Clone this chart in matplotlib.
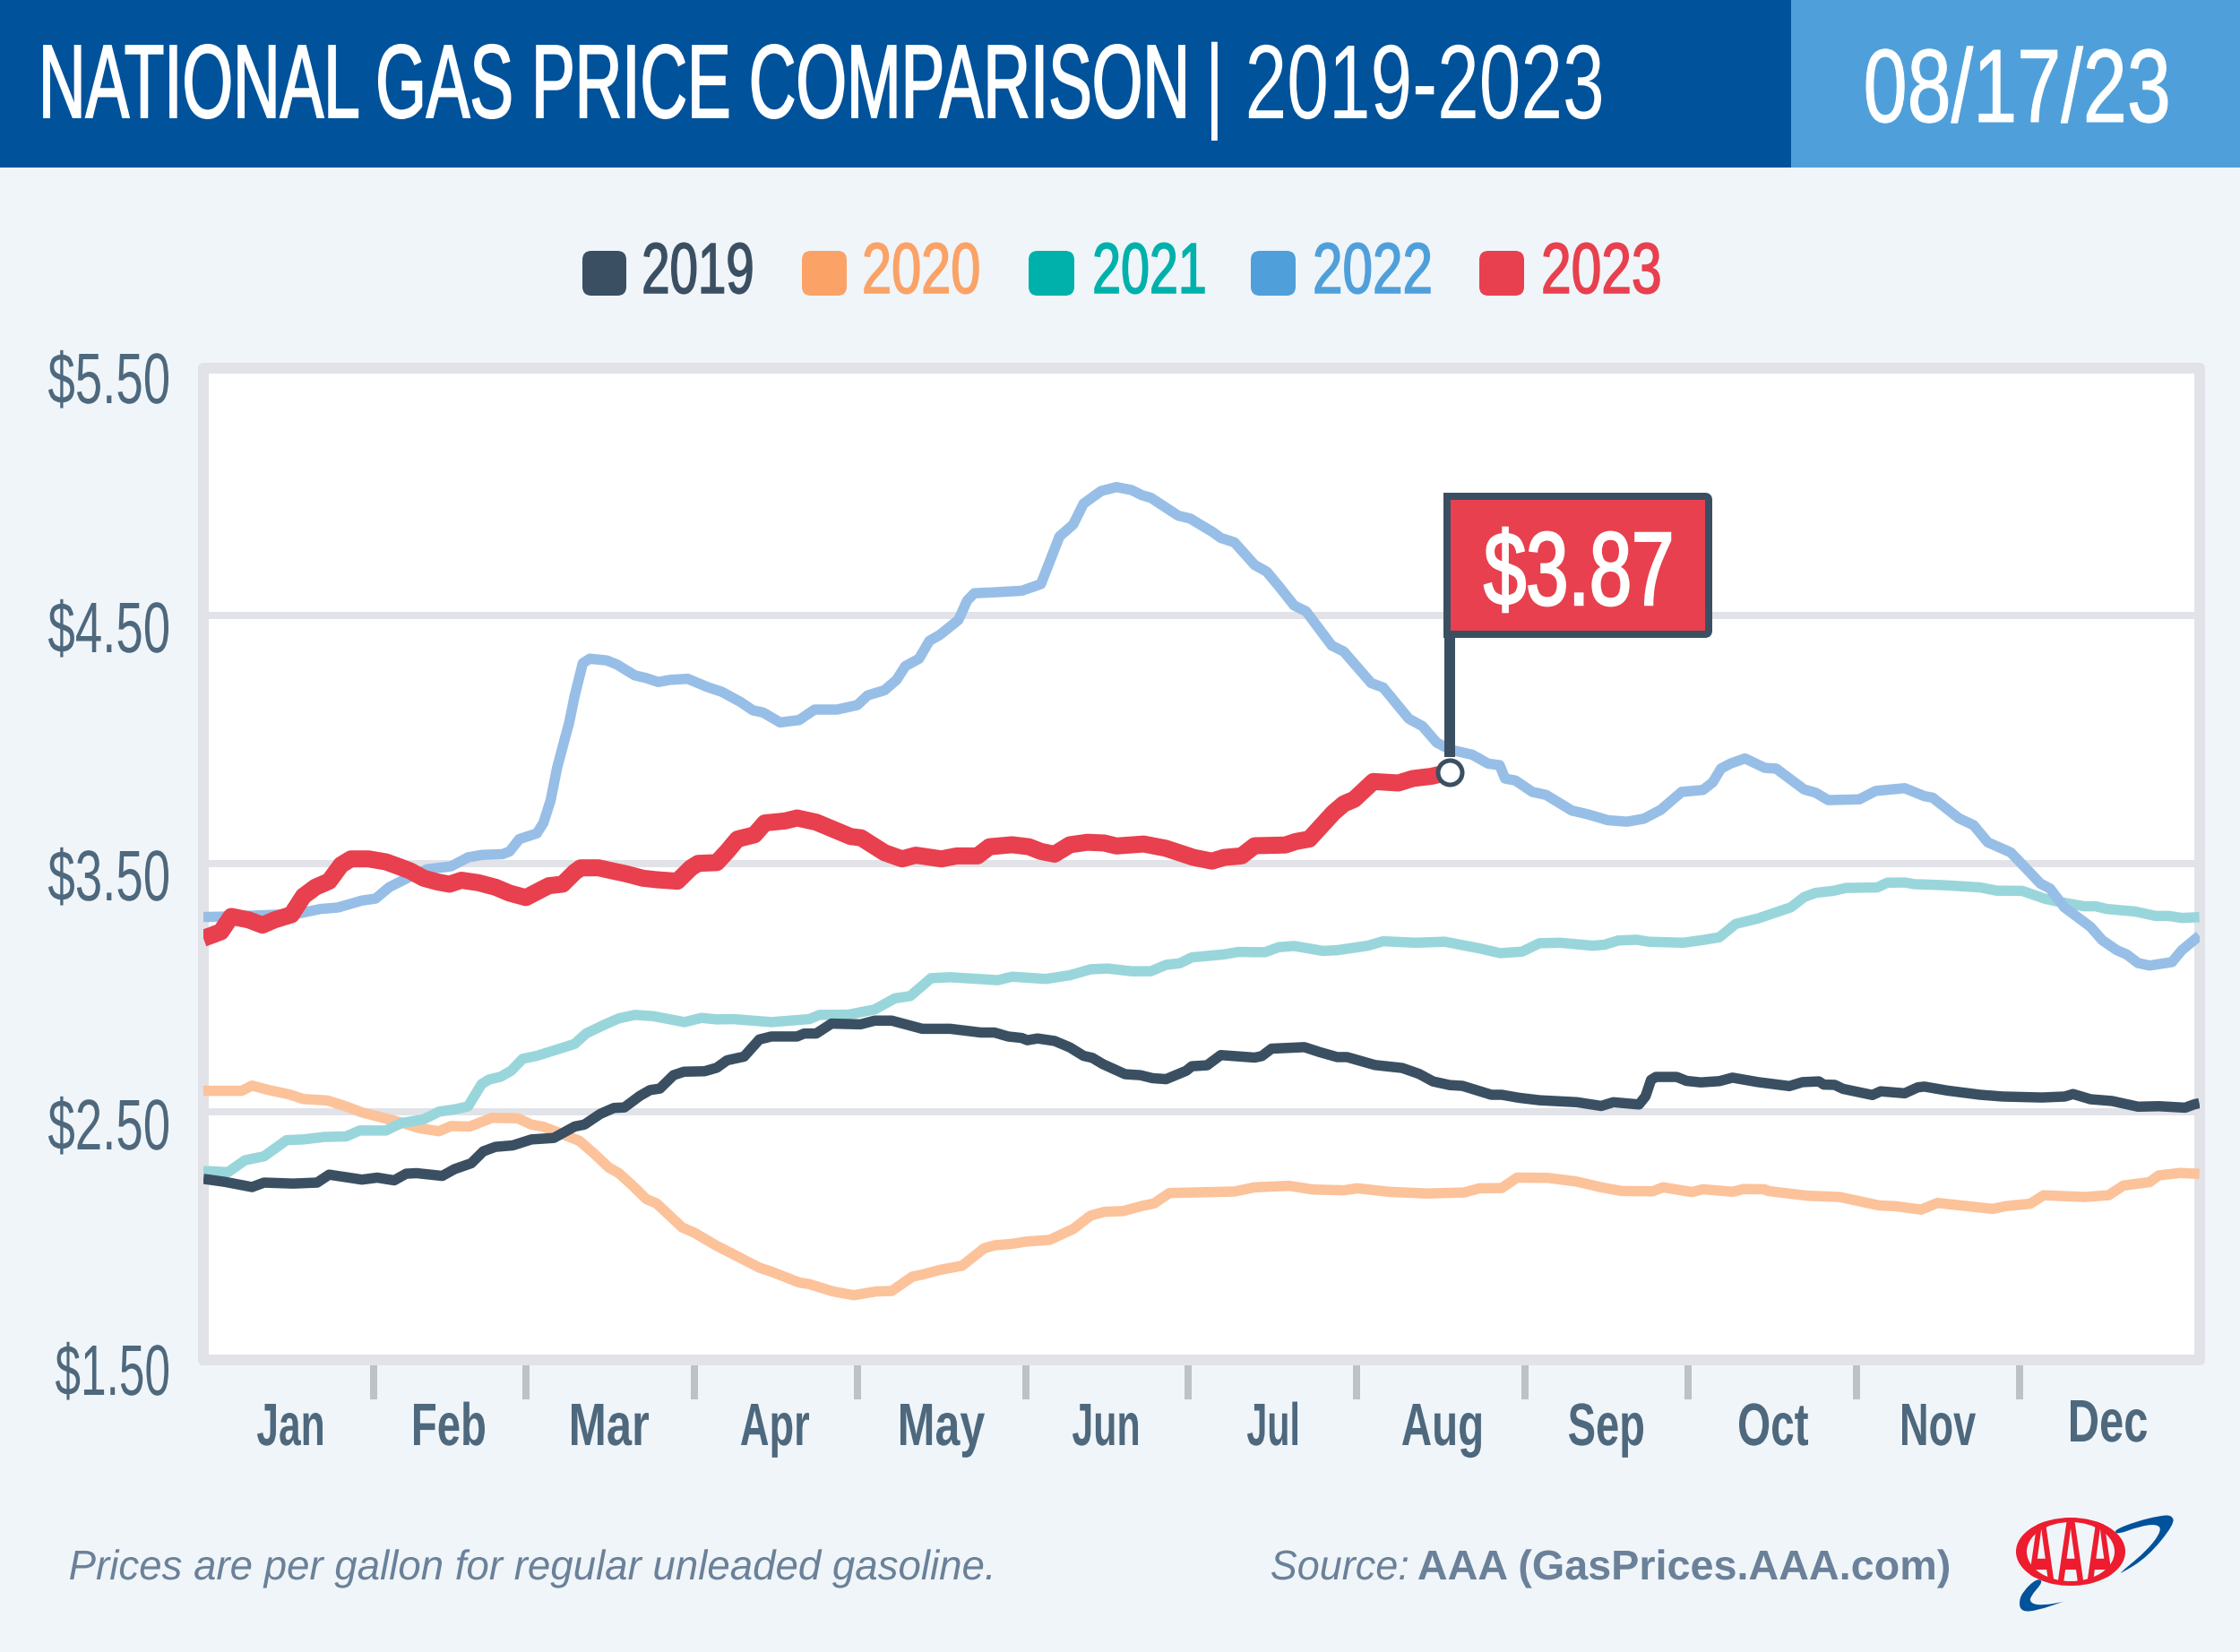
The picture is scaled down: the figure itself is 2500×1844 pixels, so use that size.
import matplotlib
matplotlib.use("Agg")
import matplotlib.pyplot as plt
from matplotlib.font_manager import FontProperties
from matplotlib.patches import Rectangle, FancyBboxPatch, Ellipse, PathPatch
from matplotlib.path import Path
from matplotlib.patheffects import AbstractPathEffect
from matplotlib.text import Text
from matplotlib.textpath import TextPath
from matplotlib.transforms import Affine2D, Bbox

# ---------- data ----------
years = ["2019", "2020", "2021", "2022", "2023"]
legend_colors = ["#3A5062", "#FBA267", "#00B1AB", "#4FA0DA", "#E8404E"]
line_colors = {"2019": "#3A5062", "2020": "#FCC29A", "2021": "#99D6DB", "2022": "#97BEE6", "2023": "#E8404E"}
month_labels = ["Jan", "Feb", "Mar", "Apr", "May", "Jun", "Jul", "Aug", "Sep", "Oct", "Nov", "Dec"]
month_ends = [31.1, 59, 89.8, 119.6, 150.4, 180.2, 211, 241.8, 271.6, 302.4, 332.2]
y_values = [5.5, 4.5, 3.5, 2.5, 1.5]
y_labels = ["$5.50", "$4.50", "$3.50", "$2.50", "$1.50"]
current_day = 228
current_price = 3.87

days_2019 = [0, 1, 3.9, 8.9, 11.1, 16.4, 20.8, 23, 29, 31.8, 34.9, 37.1, 39, 43.7, 45.9, 49, 51.2, 53.4, 56.6, 60, 64.1, 67.9, 69.7, 72.6, 75.1, 77, 79.8, 81.7, 83.5, 86, 87.9, 91.7,
             93.9, 95.8, 98.9, 101.7, 103.9, 108.6, 109.9, 112.1, 114.9, 120.2, 122.8, 125.9, 131.5, 136.6, 142.2, 144.7, 147.2, 149.7, 150.7, 152.6, 155.7, 158.5, 161, 162.6, 164.5, 168.6, 171.4, 173.6, 176.1, 179.8, 180.8, 183.6, 186.1,
             192.3, 193.6, 195.4, 201.4, 204.2, 207.4, 209.2, 214.3, 219.3, 222.4, 224.9, 228, 230.3, 235.6, 237.5, 240.6, 244.4, 251.3, 255.7, 257.9, 262.6, 263.8, 264.8, 265.7, 269.5, 271.3, 273.9,
             277.3, 279.7, 284.4, 290.1, 292.5, 295.5, 296.4, 298.4, 299.9, 305.3, 306.8, 311.2, 313.6, 314.8, 319, 325, 329.1, 336.3, 340.5, 342, 345.2, 349.1, 353.9, 357.7, 362.5, 364.1, 365.1]
prices_2019 = [2.23, 2.227, 2.218, 2.197, 2.215, 2.211, 2.215, 2.247, 2.227, 2.235, 2.224, 2.251, 2.253, 2.242, 2.269, 2.293, 2.341, 2.359, 2.365, 2.389, 2.395, 2.441, 2.449, 2.492, 2.516, 2.518, 2.564, 2.588, 2.594, 2.648, 2.662, 2.664,
               2.678, 2.708, 2.723, 2.792, 2.804, 2.804, 2.816, 2.816, 2.856, 2.853, 2.868, 2.868, 2.835, 2.835, 2.82, 2.82, 2.804, 2.798, 2.789, 2.796, 2.786, 2.76, 2.726, 2.718, 2.693, 2.652, 2.648, 2.636, 2.632, 2.666, 2.684, 2.688, 2.729,
               2.719, 2.725, 2.755, 2.761, 2.741, 2.721, 2.721, 2.689, 2.677, 2.653, 2.623, 2.608, 2.605, 2.569, 2.569, 2.557, 2.547, 2.539, 2.524, 2.539, 2.53, 2.563, 2.629, 2.641, 2.641, 2.625, 2.619,
               2.624, 2.638, 2.62, 2.604, 2.62, 2.623, 2.61, 2.609, 2.593, 2.568, 2.583, 2.575, 2.599, 2.602, 2.586, 2.569, 2.562, 2.558, 2.562, 2.572, 2.551, 2.544, 2.521, 2.523, 2.517, 2.53, 2.535]

days_2020 = [0, 1, 7, 8.9, 12, 15.8, 18.3, 22.7, 26.1, 29, 32.7, 35.9, 39.6, 43.1, 45.3, 48.7, 52.8, 57.5, 60, 62.2, 64.7, 68.8, 71.6, 74.2, 76, 78.5, 81, 82.9, 87.6, 89.8,
             93.9, 96.4, 101.7, 103.9, 109, 110.8, 115.2, 119, 123, 125.9, 129.7, 131.5, 134.7, 138.8, 142.8, 144.7, 147.9, 150.4, 154.8, 159.1, 162.3, 164.8, 168.2, 171.7, 173.9, 176.7, 188.6,
             192.3, 198.6, 203, 208.6, 211.1, 216.8, 223.7, 230.6, 233.4, 237.5, 240.3, 245.9, 251, 255.7, 259.4, 265.1, 267, 272.3,
             274.3, 279.7, 281.7, 285.6, 286.2, 293.4, 299.3, 306.5, 309.5, 314.2, 317.2, 327.3, 329.7, 334.2, 336.6, 344, 348.5, 351.2, 356, 357.7, 361.6, 365.1]
prices_2020 = [2.585, 2.585, 2.585, 2.606, 2.588, 2.57, 2.552, 2.546, 2.522, 2.498, 2.477, 2.459, 2.434, 2.422, 2.443, 2.441, 2.476, 2.474, 2.449, 2.44, 2.419, 2.383, 2.329, 2.275, 2.253, 2.203, 2.149, 2.131, 2.034, 2.013,
               1.96, 1.932, 1.872, 1.856, 1.812, 1.806, 1.776, 1.761, 1.776, 1.778, 1.836, 1.844, 1.863, 1.88, 1.95, 1.962, 1.968, 1.977, 1.984, 2.028, 2.082, 2.097, 2.10, 2.121, 2.131, 2.173, 2.179,
               2.196, 2.202, 2.187, 2.184, 2.192, 2.178, 2.171, 2.175, 2.192, 2.193, 2.235, 2.234, 2.22, 2.196, 2.181, 2.18, 2.196, 2.177,
               2.188, 2.178, 2.189, 2.188, 2.181, 2.162, 2.157, 2.123, 2.12, 2.106, 2.133, 2.109, 2.12, 2.13, 2.164, 2.157, 2.164, 2.203, 2.217, 2.244, 2.254, 2.25]

days_2021 = [0, 1, 4.5, 7.6, 11.1, 15.2, 18.3, 22.1, 26.1, 28.6, 33.4, 36.2, 40.3, 43.1, 45.9, 48.4, 50.9, 52.2, 54.4, 56.3, 58.4, 61, 67.9, 70, 73.5, 76, 78.9, 82.3, 88, 91.1,
             93.9, 97, 103.9, 110.8, 112.7, 118, 122.8, 126.5, 129.3, 133.1, 136.6, 145.3, 147.9, 154.1, 158.5, 162.3, 165.4, 169.8, 173.3, 176.1, 178.6, 180.8, 186.7, 189.3,
             192.3, 194.2, 196.7, 199.5, 204.8, 207.4, 213, 215.8, 221.8, 227.1, 233.7, 237.2, 241.2, 244.4, 248.1, 254.1, 256.3, 258.8, 262.2, 264.4, 270.7,
             274.3, 277.3, 280.3, 284.4, 290.4, 292.8, 294.9, 298.1, 300.5, 306.2, 308, 311.2, 313, 318.4, 325, 328, 332.7, 336.9, 339.9, 344, 346.1, 348.2, 353.3, 357.1, 359.5, 361.9, 365.1]
prices_2021 = [2.26, 2.261, 2.257, 2.305, 2.321, 2.386, 2.389, 2.399, 2.401, 2.425, 2.425, 2.455, 2.47, 2.501, 2.51, 2.522, 2.612, 2.63, 2.642, 2.666, 2.714, 2.726, 2.774, 2.816, 2.853, 2.877, 2.891, 2.886, 2.862, 2.879,
               2.873, 2.874, 2.862, 2.874, 2.891, 2.892, 2.913, 2.958, 2.967, 3.039, 3.043, 3.031, 3.045, 3.036, 3.051, 3.075, 3.078, 3.067, 3.067, 3.093, 3.099, 3.123, 3.135, 3.145,
               3.144, 3.144, 3.164, 3.169, 3.149, 3.152, 3.17, 3.188, 3.182, 3.186, 3.158, 3.14, 3.146, 3.18, 3.182, 3.17, 3.174, 3.191, 3.194, 3.186, 3.182,
               3.193, 3.204, 3.258, 3.28, 3.325, 3.366, 3.383, 3.391, 3.403, 3.405, 3.424, 3.425, 3.418, 3.414, 3.405, 3.392, 3.391, 3.359, 3.345, 3.329, 3.329, 3.318, 3.308, 3.29, 3.29, 3.282, 3.285]

days_2022 = [0, 1, 5.1, 10, 17, 21.4, 24.6, 29, 31.5, 34, 37.8, 40.9, 45.3, 48.4, 50.9, 54.7, 56, 57.8, 61, 62.2, 63.5, 64.7, 66.3, 66.9, 67.9, 69.4, 70.7, 73.8, 75.7, 78.9, 81, 83.2, 85.4, 88.6, 92.3,
             94.8, 98.3, 100.5, 102.4, 105.5, 109, 111.8, 115.9, 119.6, 121.5, 124.6, 126.8, 128.4, 130.9, 132.8, 134.7, 138.1, 139.7, 141, 144.1, 149.7, 153.2, 155, 156.6, 159.1, 161, 164.2, 167, 169.8, 171.7, 173.3, 178.3, 180.5, 184.6, 186.1, 188.6,
             192.3, 194.5, 196.7, 199.5, 201.7, 206.4, 208.6, 213.6, 215.8, 220.5, 223, 225.6, 228, 232.1, 235, 237.1, 238.1, 240, 243.1, 245.6, 250.3, 253.2, 256.9, 260.4, 263.5, 266.6, 270.4,
             274.3, 276.1, 277.6, 279.4, 282, 285.6, 287.7, 292.8, 294.9, 297.2, 302.9, 305.9, 311.2, 314.8, 316.3, 321.1, 323.8, 326.4, 330.6, 333.9, 336, 337.8, 340.4, 345.2, 347.3, 350, 351.8, 353.9, 356, 360.1, 361.9, 365.1]
prices_2022 = [3.286, 3.286, 3.288, 3.292, 3.298, 3.318, 3.324, 3.352, 3.36, 3.406, 3.448, 3.478, 3.49, 3.526, 3.536, 3.539, 3.55, 3.60, 3.623, 3.665, 3.755, 3.887, 4.02, 4.068, 4.176, 4.309, 4.327, 4.32, 4.303, 4.26, 4.249, 4.233, 4.242, 4.246, 4.212,
               4.194, 4.152, 4.119, 4.11, 4.07, 4.08, 4.122, 4.122, 4.14, 4.179, 4.20, 4.242, 4.297, 4.327, 4.399, 4.423, 4.483, 4.561, 4.591, 4.594, 4.601, 4.628, 4.73, 4.82, 4.868, 4.952, 5.003, 5.019, 5.007, 4.986, 4.976, 4.904, 4.892, 4.838, 4.814, 4.796,
               4.705, 4.678, 4.62, 4.542, 4.518, 4.38, 4.356, 4.229, 4.211, 4.085, 4.055, 3.989, 3.961, 3.94, 3.904, 3.898, 3.844, 3.836, 3.79, 3.778, 3.715, 3.70, 3.676, 3.67, 3.682, 3.718, 3.79,
               3.798, 3.829, 3.884, 3.905, 3.925, 3.887, 3.884, 3.80, 3.787, 3.757, 3.76, 3.794, 3.805, 3.773, 3.767, 3.684, 3.656, 3.587, 3.546, 3.47, 3.421, 3.40, 3.325, 3.246, 3.193, 3.152, 3.135, 3.10, 3.09, 3.104, 3.152, 3.21]

days_2023 = [0, 1, 3.2, 5.1, 8.3, 10.8, 13, 16.1, 18.3, 20.5, 23, 25.2, 27, 30.2, 33.4, 35.9, 37.8, 40.3, 42.8, 45, 47.2, 50.3, 53.4, 56, 59, 61.6, 63.2, 65.7, 67.9, 69, 72.3, 74.1, 77.3, 80.4, 82.9, 86.7, 89.2, 90.5,
             93.9, 95.8, 97.7, 100.8, 102.7, 106.4, 108.6, 112.1, 118.4, 120.3, 124.6, 127.8, 130.3, 135, 137.8, 141.6, 143.8, 147.9, 151, 153.2, 155.7, 158.5, 161.7, 164.8, 167, 172, 176, 181.1, 184.5, 186.7, 189.9,
             192.3, 197.9, 199.8, 202.3, 206.7, 208.6, 210.5, 214, 218.6, 221.2, 224.6, 228]
prices_2023 = [3.20, 3.208, 3.226, 3.288, 3.274, 3.253, 3.274, 3.295, 3.37, 3.406, 3.43, 3.496, 3.52, 3.52, 3.508, 3.488, 3.472, 3.442, 3.427, 3.418, 3.434, 3.424, 3.406, 3.382, 3.364, 3.394, 3.412, 3.418, 3.466, 3.484, 3.484, 3.475, 3.46, 3.442, 3.436, 3.43, 3.484, 3.502,
               3.505, 3.55, 3.60, 3.617, 3.665, 3.673, 3.685, 3.668, 3.61, 3.605, 3.545, 3.52, 3.535, 3.52, 3.532, 3.532, 3.569, 3.577, 3.569, 3.55, 3.539, 3.577, 3.587, 3.584, 3.572, 3.58, 3.563, 3.526, 3.511, 3.526, 3.532,
               3.573, 3.576, 3.59, 3.60, 3.706, 3.742, 3.76, 3.832, 3.826, 3.844, 3.853, 3.87]

series = {
    "2019": (days_2019, prices_2019), "2020": (days_2020, prices_2020), "2021": (days_2021, prices_2021),
    "2022": (days_2022, prices_2022), "2023": (days_2023, prices_2023),
}

# ---------- style ----------
W, H = 2500, 1844
BG = "#F0F5F9"; HEAD = "#00529B"; DATEBOX = "#4FA0DA"; FRAME = "#E1E3E8"; TICK = "#BEC1C6"
AXTXT = "#4E687D"; FOOT = "#6A8199"; DARK = "#3A5062"; RED = "#E8404E"; LOGORED = "#ED1C2E"
NARROW = ["Liberation Sans Narrow", "Liberation Sans"]
ARIAL = ["Liberation Sans", "DejaVu Sans"]
px = lambda v: v * 0.72  # image pixels -> points at dpi 100

fig = plt.figure(figsize=(W / 100, H / 100), dpi=100, facecolor=BG)
PX = Affine2D().scale(1, -1).translate(0, H)  # image pixel coordinates


class HScale(AbstractPathEffect):
    """Condense glyph outlines horizontally around the text origin, optionally thickening them."""
    def __init__(self, sx, stroke=0.0):
        super().__init__()
        self.sx = sx
        self.stroke = stroke

    def draw_path(self, renderer, gc, tpath, affine, rgbFace=None):
        g = renderer.new_gc()
        g.copy_properties(gc)
        if self.stroke:
            g.set_linewidth(px(self.stroke))
            g.set_foreground(rgbFace)
            g.set_joinstyle("miter")
        renderer.draw_path(g, tpath, Affine2D().scale(self.sx, 1) + affine, rgbFace)
        g.restore()


class CondText(Text):
    def __init__(self, *a, sx=1.0, stroke=0.0, **k):
        super().__init__(*a, **k)
        self._sx = sx
        self.set_path_effects([HScale(sx, stroke)])

    def _get_layout(self, renderer):
        bbox, info, descent = super()._get_layout(renderer)
        return Bbox.from_bounds(bbox.x0, bbox.y0, bbox.width * self._sx, bbox.height), info, descent


def label(s, x0, x1, base, cap, color, family=NARROW, weight="normal", style="normal", zorder=10, stroke=0.0):
    """Real text whose ink spans x0..x1 with its baseline at `base`, cap height `cap` (image px)."""
    fp = FontProperties(family=family, weight=weight, style=style)
    capH = TextPath((0, 0), "H", size=100, prop=fp).get_extents().height
    size_px = cap / capH * 100
    ext = TextPath((0, 0), s, size=size_px, prop=fp).get_extents()
    sx = (x1 - x0) / ext.width
    t = CondText(x0 - ext.x0 * sx, base, s, sx=sx, stroke=stroke, transform=PX, color=color, ha="left",
                 va="baseline", fontproperties=fp, fontsize=px(size_px), zorder=zorder)
    fig.add_artist(t)
    return t


# ---------- header ----------
fig.add_artist(Rectangle((0, 0), 2000, 187, transform=PX, facecolor=HEAD, edgecolor="none", zorder=1))
fig.add_artist(Rectangle((1999, 0), 501, 187, transform=PX, facecolor=DATEBOX, edgecolor="none", zorder=1))
label("NATIONAL GAS PRICE COMPARISON", 49, 1322, 131, 80, "white", stroke=1.8)
label("| 2019-2023", 1352, 1787, 132, 81, "white")
label("08/17/23", 2083, 2419, 136, 80, "white", stroke=1)

# ---------- legend ----------
swatches = [(650, 699), (895, 945), (1148, 1199), (1396, 1446), (1651, 1701)]
legend_text = [(719, 839), (965, 1092), (1222, 1344), (1468, 1596), (1723, 1852)]
for yr, c, (a, b), (ta, tb) in zip(years, legend_colors, swatches, legend_text):
    fig.add_artist(FancyBboxPatch((a + 10, 290), b - a - 20, 30, boxstyle="round,pad=10,rounding_size=10",
                                  transform=PX, facecolor=c, edgecolor="none", zorder=2))
    label(yr, ta, tb, 327, 55, c, stroke=1.5)

# ---------- chart ----------
L, R, T, B = 227, 2454.5, 410.5, 1518
ax = fig.add_axes([L / W, 1 - B / H, (R - L) / W, (B - T) / H], facecolor="white")
ax.set_xlim(0, 365.08)
ax.set_ylim(1.5, 5.5)
ax.set_axisbelow(True)
for s in ax.spines.values():
    s.set_color(FRAME)
    s.set_linewidth(px(12))
    s.set_capstyle("round")
ax.set_yticks(y_values)
ax.set_xticks(month_ends)
ax.set_xticklabels([])
ax.set_yticklabels([])
ax.tick_params(axis="y", length=0)
ax.tick_params(axis="x", length=px(44), width=px(8), color=TICK, direction="out")
ax.grid(axis="y", color=FRAME, linewidth=px(8))
ax.grid(axis="x", visible=False)

draw_order = ["2020", "2021", "2019", "2022", "2023"]
for yr in draw_order:
    d, p = series[yr]
    ax.plot(d, p, color=line_colors[yr], linewidth=px(19 if yr == "2023" else 11.5),
            solid_joinstyle="round", solid_capstyle="butt", zorder=3, label=yr)

ax.plot([current_day], [current_price], "o", ms=px(27), mfc="white", mec=DARK, mew=px(5), zorder=6)

# ---------- flag ----------
fig.add_artist(Rectangle((1612, 700), 12, 845 - 700, transform=PX, facecolor=DARK, edgecolor="none", zorder=5))
fig.add_artist(FancyBboxPatch((1625, 564), 272, 134, boxstyle="round,pad=10,rounding_size=4", transform=PX,
                              facecolor=RED, edgecolor=DARK, linewidth=px(8), zorder=6))
fig.add_artist(Rectangle((1611, 550), 20, 162, transform=PX, facecolor=DARK, edgecolor="none", zorder=6))
fig.add_artist(Rectangle((1619, 558), 12, 146, transform=PX, facecolor=RED, edgecolor="none", zorder=7))
label("$3.87", 1657, 1864, 675, 80, "white", stroke=2.5, zorder=8)

# ---------- axis labels ----------
y_boxes = [(54, 188, 450), (54, 188, 728), (54, 188, 1005), (54, 188, 1283), (62, 188, 1557)]
for s, (a, b, base) in zip(y_labels, y_boxes):
    label(s, a, b, base, 55, AXTXT)

x_boxes = [(287, 360), (462, 541), (638, 724), (827, 903), (1005, 1099), (1197, 1270),
           (1392, 1448), (1565, 1653), (1751, 1834), (1941, 2018), (2123, 2205), (2311, 2396)]
for s, (a, b) in zip(month_labels, x_boxes):
    label(s, a, b, 1609 if s == "Dec" else 1613, 46, AXTXT, weight="bold")

# ---------- footer ----------
label("Prices are per gallon for regular unleaded gasoline.", 78, 1106, 1763, 32, FOOT, family=ARIAL, style="italic")
label("Source:", 1419, 1571, 1763, 32, FOOT, family=ARIAL, style="italic")
label("AAA (GasPrices.AAA.com)", 1583, 2175, 1763, 32, FOOT, family=ARIAL, weight="bold")


# ---------- logo ----------
def smooth(pts):
    mid = lambda a, b: ((a[0] + b[0]) / 2, (a[1] + b[1]) / 2)
    n = len(pts)
    verts = [mid(pts[-1], pts[0])]
    codes = [Path.MOVETO]
    for i in range(n):
        verts += [pts[i], mid(pts[i], pts[(i + 1) % n])]
        codes += [Path.CURVE3, Path.CURVE3]
    return Path(verts, codes)


swoosh_top = [(2359, 1708), (2385, 1698), (2410, 1692), (2424, 1691), (2427, 1701), (2397, 1738), (2366, 1757),
              (2368, 1754), (2397, 1730), (2413, 1708), (2407, 1701), (2387, 1704), (2363, 1713)]
swoosh_low = [(2273, 1762), (2258, 1776), (2253, 1788), (2256, 1799), (2273, 1798), (2305, 1787),
              (2303, 1788), (2280, 1792), (2267, 1790), (2265, 1783), (2281, 1765)]
for pts in (swoosh_top, swoosh_low):
    fig.add_artist(PathPatch(smooth(pts), transform=PX, facecolor=HEAD, edgecolor="none", zorder=3))
outer = Ellipse((2311, 1732), 122, 76, transform=PX, facecolor=LOGORED, edgecolor="none", zorder=4)
fig.add_artist(outer)
fig.add_artist(Ellipse((2311, 1732), 98, 66, transform=PX, facecolor=BG, edgecolor="none", zorder=5))
aaa = label("AAA", 2263, 2359, 1772, 78, LOGORED, family=ARIAL, weight="bold", zorder=6)
aaa.set_clip_path(outer)

fig.savefig("out.png", dpi=100, facecolor=BG)
